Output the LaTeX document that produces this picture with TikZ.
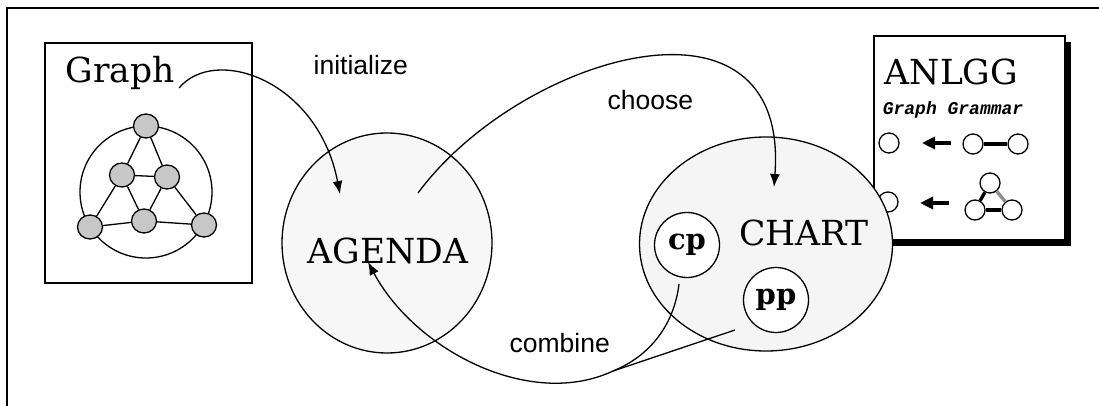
\documentclass[tikz,border=0pt]{standalone}
\usepackage{fontspec}
\setmainfont{DejaVu Serif}
\newfontfamily\verbfont{Liberation Sans}
\newfontfamily\grammarfont{Liberation Mono}
\usetikzlibrary{arrows.meta,shapes.geometric,shadows}

\begin{document}
\begin{tikzpicture}[x=1pt,y=-1pt,line width=1.3pt,
  big/.style={font=\fontsize{34.5}{40}\selectfont,inner sep=0pt},
  verb/.style={font=\verbfont\fontsize{26.5}{30}\selectfont,inner sep=0pt},
  small/.style={font=\bfseries\fontsize{29}{32}\selectfont,circle,draw,fill=white,minimum size=65pt,inner sep=0pt},
  gnode/.style={ellipse,draw,fill=black!22,minimum width=25pt,minimum height=24pt,inner sep=0pt},
  rnode/.style={circle,draw,fill=white,minimum size=20pt,inner sep=0pt},
  flow/.style={-{Latex[length=13pt,width=10pt]}},
  rulearrow/.style={line width=4pt,-{Triangle[length=13pt,width=12pt]}},
  fatedge/.style={line width=3.3pt}]
\useasboundingbox (0,0) rectangle (1099,406);
\draw[line width=1.5pt] (7,406) -- (7,8) -- (1099,8);

\node[draw,minimum width=207pt,minimum height=240pt] (graphbox) at (148.5,163) {};
\node[big,anchor=base west] (graphlbl) at (65,83) {Graph};
\node[circle,draw,minimum size=132pt,inner sep=0pt] (ring) at (146,192) {};
\node[gnode] (g1) at (146,126) {};
\node[gnode] (g2) at (122,175) {};
\node[gnode] (g3) at (167,177) {};
\node[gnode] (g4) at (144,221) {};
\node[gnode] (g5) at (90,227) {};
\node[gnode] (g6) at (204,225) {};
\draw (g1) -- (g2);
\draw (g1) -- (g3);
\draw (g2) -- (g3);
\draw (g2) -- (g5);
\draw (g2) -- (g4);
\draw (g3) -- (g4);
\draw (g3) -- (g6);
\draw (g5) -- (g4);
\draw (g4) -- (g6);

\node[draw,fill=white,minimum width=191pt,minimum height=204pt,
  drop shadow={shadow xshift=6pt,shadow yshift=-6pt,fill=black,opacity=1}] (anlgg) at (969.5,138) {};
\node[big,anchor=base] (anlgglbl) at (951.5,85) {ANLGG};
\node[font=\grammarfont\bfseries\itshape\fontsize{18}{20}\selectfont,inner sep=0pt,anchor=base] (gramlbl) at (953,115) {Graph Grammar};
\node[rnode] (a1) at (889,143) {};
\node[rnode] (b1) at (973,144) {};
\node[rnode] (b2) at (1018,144) {};
\draw[fatedge] (b1) -- (b2);
\coordinate (r1from) at (951,143);
\coordinate (r1to) at (922,143);
\draw[rulearrow] (r1from) -- (r1to);
\node[rnode] (a2) at (888,202) {};
\node[rnode] (t1) at (990,183) {};
\node[rnode] (t2) at (975,210) {};
\node[rnode] (t3) at (1012,210) {};
\draw[fatedge] (t1) -- (t2);
\draw[fatedge] (t2) -- (t3);
\draw[fatedge,black!45] (t1) -- (t3);
\coordinate (r2from) at (949,203);
\coordinate (r2to) at (920,203);
\draw[rulearrow] (r2from) -- (r2to);

\node[ellipse,draw,fill=black!3,minimum width=210pt,minimum height=220pt] (agenda) at (387,243) {};
\node[big,anchor=base] (agendalbl) at (388,263) {AGENDA};
\node[ellipse,draw,fill=black!4,minimum width=253pt,minimum height=214pt] (chart) at (766,244) {};
\node[big,anchor=base] (chartlbl) at (804,245) {CHART};
\node[small] (cp) at (687,245) {cp};
\node[small] (pp) at (776,300) {pp};

\coordinate (inistart) at (179,88);
\coordinate (iniend) at (340,194);
\draw[flow] (inistart) .. controls (215,45) and (318,80) .. (iniend);
\node[verb,anchor=base west] (inilbl) at (313,75) {initialize};

\coordinate (chsstart) at (418,193);
\coordinate (chsend) at (774,187);
\draw[flow] (chsstart) .. controls (520,55) and (790,-25) .. (chsend);
\node[verb,anchor=base west] (chslbl) at (607,110) {choose};

\coordinate (cpout) at (679,284);
\coordinate (ppout) at (735,330);
\coordinate (join) at (613,371);
\coordinate (combend) at (368,262);
\draw (cpout) .. controls (674,325) and (650,356) .. (join);
\draw (ppout) -- (join);
\draw[flow] (join) .. controls (530,410) and (415,350) .. (combend);
\node[verb,anchor=base west] (comblbl) at (509,352) {combine};
\end{tikzpicture}
\end{document}
